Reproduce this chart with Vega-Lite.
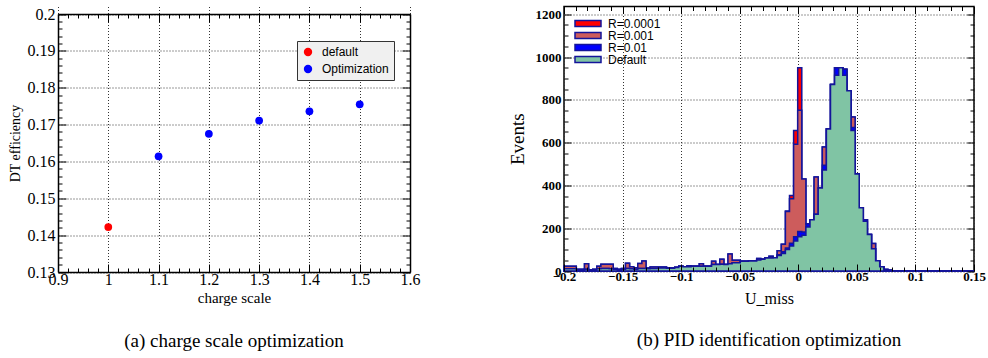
{
  "$schema": "https://vega.github.io/schema/vega-lite/v6.json",
  "padding": {"left": 8, "top": 4.5, "right": 0, "bottom": 0},
  "background": "white",
  "spacing": 87,
  "resolve": {"scale": {"color": "independent"}, "legend": {"color": "independent"}},
  "config": {
    "view": {"stroke": "black", "strokeWidth": 1.5},
    "axis": {"labelColor": "black", "titleColor": "black", "labelFont": "Liberation Serif", "titleFont": "Liberation Serif", "titleFontWeight": "normal", "gridColor": "#333", "gridDash": [1, 2], "gridWidth": 1, "gridOpacity": 1, "tickColor": "black", "domain": false, "domainColor": "black", "domainWidth": 1.5, "labelFlush": false, "labelOverlap": false},
    "legend": {"labelFont": "Liberation Sans", "labelColor": "black"}
  },
  "hconcat": [
    {
      "width": 352,
      "height": 265.5,
      "view": {"stroke": null},
      "title": {"text": "(a) charge scale optimization", "orient": "bottom", "frame": "group", "anchor": "middle", "font": "Liberation Serif", "fontSize": 19, "fontWeight": "normal", "offset": 27, "color": "black"},
      "data": {"values": [
        {"cs": 1.0, "eff": 0.1422, "type": "default"},
        {"cs": 1.1, "eff": 0.1614, "type": "Optimization"},
        {"cs": 1.2, "eff": 0.1675, "type": "Optimization"},
        {"cs": 1.3, "eff": 0.1711, "type": "Optimization"},
        {"cs": 1.4, "eff": 0.1736, "type": "Optimization"},
        {"cs": 1.5, "eff": 0.1755, "type": "Optimization"}
      ]},
      "resolve": {"axis": {"x": "independent", "y": "independent"}},
      "layer": [
        {
          "mark": {"type": "circle", "size": 60, "opacity": 1},
          "encoding": {
            "x": {"field": "cs", "type": "quantitative", "scale": {"domain": [0.9, 1.6], "nice": false, "zero": false},
              "axis": {"orient": "bottom", "values": [0.9, 1, 1.1, 1.2, 1.3, 1.4, 1.5, 1.6], "format": "~g", "ticks": false, "grid": true, "labelFontSize": 16, "labelPadding": -1, "title": "charge scale", "titleFontSize": 15, "titlePadding": 3}},
            "y": {"field": "eff", "type": "quantitative", "scale": {"domain": [0.13, 0.2], "nice": false, "zero": false, "range": [265.5, 7.5]},
              "axis": {"orient": "left", "values": [0.13, 0.14, 0.15, 0.16, 0.17, 0.18, 0.19, 0.2], "format": "~g", "ticks": false, "grid": true, "labelFontSize": 16, "labelPadding": 3, "title": "DT efficiency", "titleFontSize": 14, "titlePadding": 5}},
            "color": {"field": "type", "type": "nominal", "scale": {"domain": ["default", "Optimization"], "range": ["#ff0000", "#0000ff"]},
              "legend": {"title": null, "orient": "none", "legendX": 239, "legendY": 34.5, "fillColor": "#f0f0f0", "strokeColor": "#333", "padding": 5, "rowPadding": 5, "labelFontSize": 12, "symbolType": "circle", "symbolSize": 70, "symbolStrokeWidth": 0, "labelOffset": 8}}
          }
        },
        {
          "mark": {"type": "point", "opacity": 0},
          "encoding": {
            "x": {"field": "cs", "type": "quantitative",
              "axis": {"orient": "bottom", "domain": true, "values": [0.9,0.92,0.94,0.96,0.98,1,1.02,1.04,1.06,1.08,1.1,1.12,1.14,1.16,1.18,1.2,1.22,1.24,1.26,1.28,1.3,1.32,1.34,1.36,1.38,1.4,1.42,1.44,1.46,1.48,1.5,1.52,1.54,1.56,1.58,1.6], "labels": false, "grid": false, "title": null, "zindex": 1,
                "tickSize": {"condition": {"test": "abs(datum.value*10-round(datum.value*10))<0.001", "value": -8}, "value": -4}}},
            "y": {"field": "eff", "type": "quantitative",
              "axis": {"orient": "left", "domain": true, "values": [0.13,0.132,0.134,0.136,0.138,0.14,0.142,0.144,0.146,0.148,0.15,0.152,0.154,0.156,0.158,0.16,0.162,0.164,0.166,0.168,0.17,0.172,0.174,0.176,0.178,0.18,0.182,0.184,0.186,0.188,0.19,0.192,0.194,0.196,0.198,0.2], "labels": false, "grid": false, "title": null, "zindex": 1,
                "tickSize": {"condition": {"test": "abs(datum.value*100-round(datum.value*100))<0.001", "value": -8}, "value": -4}}}
          }
        },
        {
          "mark": {"type": "point", "opacity": 0},
          "encoding": {
            "x": {"field": "cs", "type": "quantitative",
              "axis": {"orient": "top", "offset": -7.5, "domain": true, "values": [0.9,0.92,0.94,0.96,0.98,1,1.02,1.04,1.06,1.08,1.1,1.12,1.14,1.16,1.18,1.2,1.22,1.24,1.26,1.28,1.3,1.32,1.34,1.36,1.38,1.4,1.42,1.44,1.46,1.48,1.5,1.52,1.54,1.56,1.58,1.6], "labels": false, "grid": false, "title": null, "zindex": 1,
                "tickSize": {"condition": {"test": "abs(datum.value*10-round(datum.value*10))<0.001", "value": -8}, "value": -4}}},
            "y": {"field": "eff", "type": "quantitative",
              "axis": {"orient": "right", "domain": true, "values": [0.13,0.132,0.134,0.136,0.138,0.14,0.142,0.144,0.146,0.148,0.15,0.152,0.154,0.156,0.158,0.16,0.162,0.164,0.166,0.168,0.17,0.172,0.174,0.176,0.178,0.18,0.182,0.184,0.186,0.188,0.19,0.192,0.194,0.196,0.198,0.2], "labels": false, "grid": false, "title": null, "zindex": 1,
                "tickSize": {"condition": {"test": "abs(datum.value*100-round(datum.value*100))<0.001", "value": -8}, "value": -4}}}
          }
        }
      ]
    },
    {
      "width": 410,
      "height": 264.5,
      "title": {"text": "(b) PID identification optimization", "orient": "bottom", "frame": "group", "anchor": "middle", "font": "Liberation Serif", "fontSize": 19, "fontWeight": "normal", "offset": 25, "color": "black"},
      "data": {"values": [
        {"x": -0.2, "r4": 22, "r3": 22, "r2": 10, "d": 10},
        {"x": -0.1965, "r4": 22, "r3": 22, "r2": 10, "d": 10},
        {"x": -0.193, "r4": 22, "r3": 22, "r2": 10, "d": 10},
        {"x": -0.1895, "r4": 8, "r3": 8, "r2": 6, "d": 6},
        {"x": -0.186, "r4": 8, "r3": 8, "r2": 6, "d": 6},
        {"x": -0.1825, "r4": 34, "r3": 34, "r2": 8, "d": 8},
        {"x": -0.179, "r4": 6, "r3": 6, "r2": 5, "d": 5},
        {"x": -0.1755, "r4": 8, "r3": 8, "r2": 6, "d": 6},
        {"x": -0.172, "r4": 22, "r3": 22, "r2": 10, "d": 10},
        {"x": -0.1685, "r4": 31, "r3": 31, "r2": 12, "d": 12},
        {"x": -0.165, "r4": 31, "r3": 31, "r2": 12, "d": 12},
        {"x": -0.1615, "r4": 31, "r3": 31, "r2": 10, "d": 10},
        {"x": -0.158, "r4": 12, "r3": 12, "r2": 8, "d": 8},
        {"x": -0.1545, "r4": 8, "r3": 8, "r2": 6, "d": 6},
        {"x": -0.151, "r4": 12, "r3": 12, "r2": 8, "d": 8},
        {"x": -0.1475, "r4": 36, "r3": 36, "r2": 12, "d": 12},
        {"x": -0.144, "r4": 20, "r3": 20, "r2": 10, "d": 10},
        {"x": -0.1405, "r4": 15, "r3": 15, "r2": 8, "d": 8},
        {"x": -0.137, "r4": 35, "r3": 35, "r2": 12, "d": 12},
        {"x": -0.1335, "r4": 47, "r3": 47, "r2": 12, "d": 12},
        {"x": -0.13, "r4": 14, "r3": 14, "r2": 10, "d": 10},
        {"x": -0.1265, "r4": 19, "r3": 19, "r2": 12, "d": 12},
        {"x": -0.123, "r4": 19, "r3": 19, "r2": 12, "d": 12},
        {"x": -0.1195, "r4": 19, "r3": 19, "r2": 14, "d": 14},
        {"x": -0.116, "r4": 19, "r3": 19, "r2": 14, "d": 14},
        {"x": -0.1125, "r4": 15, "r3": 15, "r2": 13, "d": 13},
        {"x": -0.109, "r4": 15, "r3": 15, "r2": 13, "d": 13},
        {"x": -0.1055, "r4": 18, "r3": 18, "r2": 16, "d": 16},
        {"x": -0.102, "r4": 22, "r3": 22, "r2": 22, "d": 22},
        {"x": -0.0985, "r4": 20, "r3": 20, "r2": 20, "d": 20},
        {"x": -0.095, "r4": 24, "r3": 24, "r2": 20, "d": 20},
        {"x": -0.0915, "r4": 22, "r3": 22, "r2": 22, "d": 22},
        {"x": -0.088, "r4": 22, "r3": 22, "r2": 22, "d": 22},
        {"x": -0.0845, "r4": 34, "r3": 34, "r2": 22, "d": 22},
        {"x": -0.081, "r4": 22, "r3": 22, "r2": 22, "d": 22},
        {"x": -0.0775, "r4": 22, "r3": 22, "r2": 22, "d": 22},
        {"x": -0.074, "r4": 45, "r3": 45, "r2": 30, "d": 30},
        {"x": -0.0705, "r4": 30, "r3": 30, "r2": 30, "d": 30},
        {"x": -0.067, "r4": 55, "r3": 55, "r2": 31, "d": 31},
        {"x": -0.0635, "r4": 30, "r3": 30, "r2": 30, "d": 30},
        {"x": -0.06, "r4": 79, "r3": 79, "r2": 34, "d": 34},
        {"x": -0.0565, "r4": 50, "r3": 50, "r2": 39, "d": 39},
        {"x": -0.053, "r4": 50, "r3": 50, "r2": 39, "d": 39},
        {"x": -0.0495, "r4": 45, "r3": 45, "r2": 45, "d": 45},
        {"x": -0.046, "r4": 45, "r3": 45, "r2": 45, "d": 45},
        {"x": -0.0425, "r4": 47, "r3": 47, "r2": 47, "d": 47},
        {"x": -0.039, "r4": 47, "r3": 47, "r2": 47, "d": 47},
        {"x": -0.0355, "r4": 58, "r3": 58, "r2": 51, "d": 51},
        {"x": -0.032, "r4": 55, "r3": 55, "r2": 55, "d": 55},
        {"x": -0.0285, "r4": 61, "r3": 61, "r2": 61, "d": 61},
        {"x": -0.025, "r4": 69, "r3": 69, "r2": 61, "d": 61},
        {"x": -0.0215, "r4": 62, "r3": 62, "r2": 62, "d": 62},
        {"x": -0.018, "r4": 95, "r3": 95, "r2": 76, "d": 72},
        {"x": -0.0145, "r4": 125, "r3": 125, "r2": 90, "d": 82},
        {"x": -0.011, "r4": 280, "r3": 278, "r2": 107, "d": 100},
        {"x": -0.0075, "r4": 353, "r3": 338, "r2": 130, "d": 117},
        {"x": -0.004, "r4": 656, "r3": 592, "r2": 160, "d": 140},
        {"x": -0.0005, "r4": 950, "r3": 751, "r2": 185, "d": 160},
        {"x": 0.003, "r4": 430, "r3": 430, "r2": 182, "d": 167},
        {"x": 0.0065, "r4": 221, "r3": 221, "r2": 221, "d": 206},
        {"x": 0.01, "r4": 240, "r3": 240, "r2": 240, "d": 240},
        {"x": 0.0135, "r4": 439, "r3": 439, "r2": 265, "d": 265},
        {"x": 0.017, "r4": 388, "r3": 388, "r2": 388, "d": 388},
        {"x": 0.0205, "r4": 580, "r3": 580, "r2": 494, "d": 472},
        {"x": 0.024, "r4": 664, "r3": 664, "r2": 664, "d": 664},
        {"x": 0.0275, "r4": 872, "r3": 872, "r2": 872, "d": 872},
        {"x": 0.031, "r4": 950, "r3": 950, "r2": 950, "d": 915},
        {"x": 0.0345, "r4": 950, "r3": 950, "r2": 950, "d": 950},
        {"x": 0.038, "r4": 943, "r3": 943, "r2": 943, "d": 915},
        {"x": 0.0415, "r4": 842, "r3": 842, "r2": 842, "d": 842},
        {"x": 0.045, "r4": 720, "r3": 720, "r2": 670, "d": 657},
        {"x": 0.0485, "r4": 453, "r3": 453, "r2": 453, "d": 453},
        {"x": 0.052, "r4": 296, "r3": 296, "r2": 296, "d": 296},
        {"x": 0.0555, "r4": 240, "r3": 240, "r2": 240, "d": 232},
        {"x": 0.059, "r4": 171, "r3": 171, "r2": 171, "d": 171},
        {"x": 0.0625, "r4": 128, "r3": 128, "r2": 104, "d": 104},
        {"x": 0.066, "r4": 48, "r3": 48, "r2": 48, "d": 48},
        {"x": 0.0695, "r4": 20, "r3": 20, "r2": 20, "d": 20},
        {"x": 0.073, "r4": 7, "r3": 7, "r2": 7, "d": 7},
        {"x": 0.0765, "r4": 3, "r3": 3, "r2": 3, "d": 3},
        {"x": 0.08, "r4": 1, "r3": 1, "r2": 1, "d": 1},
        {"x": 0.0835, "r4": 1, "r3": 1, "r2": 1, "d": 1},
        {"x": 0.087, "r4": 1, "r3": 1, "r2": 1, "d": 1},
        {"x": 0.0905, "r4": 0, "r3": 0, "r2": 0, "d": 0},
        {"x": 0.094, "r4": 1, "r3": 1, "r2": 1, "d": 1},
        {"x": 0.0975, "r4": 0, "r3": 0, "r2": 0, "d": 0},
        {"x": 0.101, "r4": 0, "r3": 0, "r2": 0, "d": 0},
        {"x": 0.1045, "r4": 0, "r3": 0, "r2": 0, "d": 0},
        {"x": 0.108, "r4": 0, "r3": 0, "r2": 0, "d": 0},
        {"x": 0.1115, "r4": 0, "r3": 0, "r2": 0, "d": 0},
        {"x": 0.115, "r4": 0, "r3": 0, "r2": 0, "d": 0},
        {"x": 0.1185, "r4": 0, "r3": 0, "r2": 0, "d": 0},
        {"x": 0.122, "r4": 0, "r3": 0, "r2": 0, "d": 0},
        {"x": 0.1255, "r4": 0, "r3": 0, "r2": 0, "d": 0},
        {"x": 0.129, "r4": 0, "r3": 0, "r2": 0, "d": 0},
        {"x": 0.1325, "r4": 0, "r3": 0, "r2": 0, "d": 0},
        {"x": 0.136, "r4": 0, "r3": 0, "r2": 0, "d": 0},
        {"x": 0.1395, "r4": 0, "r3": 0, "r2": 0, "d": 0},
        {"x": 0.143, "r4": 0, "r3": 0, "r2": 0, "d": 0},
        {"x": 0.1465, "r4": 0, "r3": 0, "r2": 0, "d": 0},
        {"x": 0.15, "r4": 0, "r3": 0, "r2": 0, "d": 0}
      ]},
      "resolve": {"axis": {"x": "independent", "y": "independent"}},
      "layer": [
        {
          "mark": {"type": "area", "interpolate": "step-after", "opacity": 1, "stroke": "#14149a", "strokeWidth": 1.5},
          "encoding": {
            "x": {"field": "x", "type": "quantitative", "scale": {"domain": [-0.2, 0.15], "nice": false, "zero": false},
              "axis": {"orient": "bottom", "values": [-0.2, -0.15, -0.1, -0.05, 0, 0.05, 0.1, 0.15], "format": "~g", "ticks": false, "grid": true, "labelFontSize": 13, "labelFontWeight": "bold", "labelPadding": -1, "title": "U_miss", "titleFontSize": 16, "titlePadding": 7}},
            "y": {"field": "r4", "type": "quantitative", "scale": {"domain": [0, 1236], "nice": false},
              "axis": {"orient": "left", "values": [0, 200, 400, 600, 800, 1000, 1200], "format": "d", "ticks": false, "grid": true, "labelFontSize": 13, "labelFontWeight": "bold", "labelPadding": 3, "title": "Events", "titleFontSize": 19, "titlePadding": 8}},
            "color": {"datum": "R=0.0001", "type": "nominal",
              "scale": {"domain": ["R=0.0001", "R=0.001", "R=0.01", "Default"], "range": ["#ff0000", "#cd5c5c", "#0000ff", "#80c4a4"]},
              "legend": {"title": null, "orient": "none", "legendX": 18, "legendY": 11, "padding": 0, "symbolType": "M-2.6,-0.6H2.6V0.6H-2.6Z", "symbolSize": 100, "rowPadding": -6, "labelFontSize": 12, "labelOffset": 14, "symbolStrokeColor": "#14149a", "symbolStrokeWidth": 1.5}}
          }
        },
        {
          "mark": {"type": "area", "interpolate": "step-after", "opacity": 1, "stroke": "#14149a", "strokeWidth": 1.5},
          "encoding": {
            "x": {"field": "x", "type": "quantitative", "axis": null},
            "y": {"field": "r3", "type": "quantitative", "axis": null},
            "color": {"datum": "R=0.001", "type": "nominal"}
          }
        },
        {
          "mark": {"type": "area", "interpolate": "step-after", "opacity": 1, "stroke": "#14149a", "strokeWidth": 1.5},
          "encoding": {
            "x": {"field": "x", "type": "quantitative", "axis": null},
            "y": {"field": "r2", "type": "quantitative", "axis": null},
            "color": {"datum": "R=0.01", "type": "nominal"}
          }
        },
        {
          "mark": {"type": "area", "interpolate": "step-after", "opacity": 1, "stroke": "#14149a", "strokeWidth": 1.5},
          "encoding": {
            "x": {"field": "x", "type": "quantitative", "axis": null},
            "y": {"field": "d", "type": "quantitative", "axis": null},
            "color": {"datum": "Default", "type": "nominal"}
          }
        },
        {
          "mark": {"type": "point", "opacity": 0},
          "encoding": {
            "x": {"field": "x", "type": "quantitative",
              "axis": {"orient": "bottom", "values": [-0.2,-0.19,-0.18,-0.17,-0.16,-0.15,-0.14,-0.13,-0.12,-0.11,-0.1,-0.09,-0.08,-0.07,-0.06,-0.05,-0.04,-0.03,-0.02,-0.01,0,0.01,0.02,0.03,0.04,0.05,0.06,0.07,0.08,0.09,0.1,0.11,0.12,0.13,0.14,0.15], "labels": false, "grid": false, "title": null, "zindex": 1,
                "tickSize": {"condition": {"test": "abs(datum.value*20-round(datum.value*20))<0.001", "value": -7}, "value": -4}}},
            "y": {"field": "d", "type": "quantitative",
              "axis": {"orient": "left", "values": [0,50,100,150,200,250,300,350,400,450,500,550,600,650,700,750,800,850,900,950,1000,1050,1100,1150,1200], "labels": false, "grid": false, "title": null, "zindex": 1,
                "tickSize": {"condition": {"test": "datum.value%200==0", "value": -7}, "value": -4}}}
          }
        },
        {
          "mark": {"type": "point", "opacity": 0},
          "encoding": {
            "x": {"field": "x", "type": "quantitative",
              "axis": {"orient": "top", "values": [-0.2,-0.19,-0.18,-0.17,-0.16,-0.15,-0.14,-0.13,-0.12,-0.11,-0.1,-0.09,-0.08,-0.07,-0.06,-0.05,-0.04,-0.03,-0.02,-0.01,0,0.01,0.02,0.03,0.04,0.05,0.06,0.07,0.08,0.09,0.1,0.11,0.12,0.13,0.14,0.15], "labels": false, "grid": false, "title": null, "zindex": 1,
                "tickSize": {"condition": {"test": "abs(datum.value*20-round(datum.value*20))<0.001", "value": -7}, "value": -4}}},
            "y": {"field": "d", "type": "quantitative",
              "axis": {"orient": "right", "values": [0,50,100,150,200,250,300,350,400,450,500,550,600,650,700,750,800,850,900,950,1000,1050,1100,1150,1200], "labels": false, "grid": false, "title": null, "zindex": 1,
                "tickSize": {"condition": {"test": "datum.value%200==0", "value": -7}, "value": -4}}}
          }
        }
      ]
    }
  ]
}
